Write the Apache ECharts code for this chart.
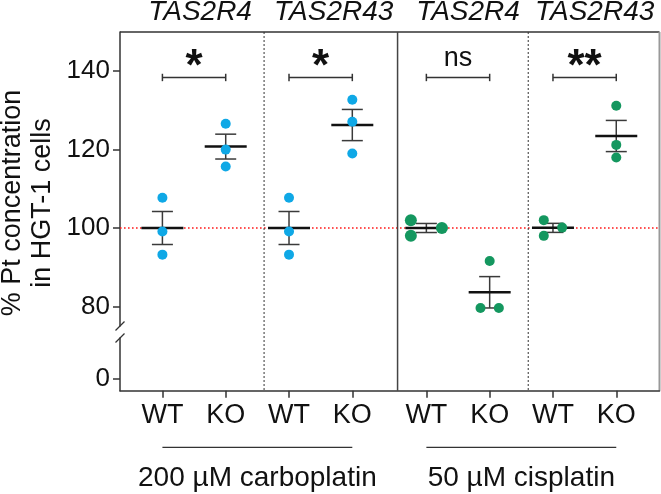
<!DOCTYPE html>
<html>
<head>
<meta charset="utf-8">
<script src="https://cdn.jsdelivr.net/npm/echarts@6/dist/echarts.min.js"></script>
<style>
  html, body { margin: 0; padding: 0; background: #fff; }
  #chart { width: 661px; height: 494px; }
</style>
</head>
<body>
<div id="chart"></div>
<script>
// ---- data ----
var columns = ['WT', 'KO', 'WT', 'KO', 'WT', 'KO', 'WT', 'KO'];
var genes = ['TAS2R4', 'TAS2R43', 'TAS2R4', 'TAS2R43'];
var treatments = ['200 µM carboplatin', '50 µM cisplatin'];
var significance = ['*', '*', 'ns', '**'];
var carboWT4 = [107.7, 99.1, 93.2];
var carboKO4 = [126.6, 120.0, 115.7];
var carboWT43 = [107.7, 99.1, 93.2];
var carboKO43 = [132.7, 127.1, 119.0];
var cisWT4 = [102.0, 100.0, 98.0];
var cisKO4 = [91.6, 79.6, 79.6];
var cisWT43 = [102.0, 100.1, 98.0];
var cisKO43 = [131.2, 121.2, 118.0];
var yTicks = [80, 100, 120, 140];
var yTicksLow = [0];
var baseline = 100;
var bracketAt = 138.4;

// ---- layout ----
var values = [carboWT4, carboKO4, carboWT43, carboKO43, cisWT4, cisKO4, cisWT43, cisKO43];
var xPos = columns.map(function(c, i) { return i + 1 + (i >= 4 ? 0.17 : 0); });
var xMin = 0.33, xMax = 8.853;
var dividers = [2.606, 4.715, 6.779];
var geneShift = [6, 13, 10, 10];
var dotSize = [10, 10, 10, 10, 12, 10, 10, 10];
var colStep = [0.29, 0.29, 0.29, 0.29, 0.49, 0.29, 0.29, 0.29];
var blue = '#0fa8e6';
var green = '#14975f';
var font = 'Liberation Sans, Arial, sans-serif';

function mean(a) { return a.reduce(function(s, v) { return s + v; }, 0) / a.length; }
function sem(a) {
  var m = mean(a);
  var ss = a.reduce(function(s, v) { return s + (v - m) * (v - m); }, 0);
  return Math.sqrt(ss / (a.length - 1)) / Math.sqrt(a.length);
}

// spread overlapping points side by side, like a column scatter
function swarm(vals, gap) {
  var idx = vals.map(function(v, i) { return i; }).sort(function(a, b) { return vals[b] - vals[a]; });
  var offs = vals.map(function() { return 0; });
  var cluster = [];
  function flush() {
    var cols = [], assign = [];
    cluster.forEach(function(i) {
      var k = 0;
      while (cols[k] !== undefined && cols[k] - vals[i] < gap) k++;
      cols[k] = vals[i];
      assign.push([i, k]);
    });
    assign.forEach(function(a) { offs[a[0]] = a[1] - (cols.length - 1) / 2; });
    cluster = [];
  }
  idx.forEach(function(i, n) {
    if (n > 0 && vals[idx[n - 1]] - vals[i] >= gap) flush();
    cluster.push(i);
  });
  flush();
  return offs;
}

var chart = echarts.init(document.getElementById('chart'));

var dotSeries = values.map(function(vals, i) {
  var offs = swarm(vals, 2.8);
  return {
    type: 'scatter',
    xAxisIndex: 0, yAxisIndex: 0,
    symbolSize: dotSize[i],
    itemStyle: { color: i < 4 ? blue : green, opacity: 1 },
    z: 5,
    silent: true,
    data: vals.map(function(v, j) { return [xPos[i] + offs[j] * colStep[i], v]; })
  };
});

var statData = values.map(function(vals, i) { return [xPos[i], mean(vals), sem(vals)]; });

var statSeries = {
  type: 'custom',
  xAxisIndex: 0, yAxisIndex: 0,
  z: 4,
  silent: true,
  data: statData,
  renderItem: function(params, api) {
    var x = api.value(0), m = api.value(1), s = api.value(2);
    var p = api.coord([x, m]);
    var hi = api.coord([x, m + s]);
    var lo = api.coord([x, m - s]);
    var ln = { stroke: '#3a3a3a', lineWidth: 1.5 };
    return {
      type: 'group',
      children: [
        { type: 'line', shape: { x1: p[0], y1: hi[1], x2: p[0], y2: lo[1] }, style: ln },
        { type: 'line', shape: { x1: p[0] - 10.5, y1: hi[1], x2: p[0] + 10.5, y2: hi[1] }, style: ln },
        { type: 'line', shape: { x1: p[0] - 10.5, y1: lo[1], x2: p[0] + 10.5, y2: lo[1] }, style: ln },
        { type: 'line', shape: { x1: p[0] - 21, y1: p[1], x2: p[0] + 21, y2: p[1] }, style: { stroke: '#111', lineWidth: 2.5 } }
      ]
    };
  }
};

var refSeries = {
  type: 'custom',
  xAxisIndex: 0, yAxisIndex: 0,
  z: 1,
  silent: true,
  data: [[xMin, baseline]],
  renderItem: function(params, api) {
    var cs = params.coordSys;
    var y = api.coord([api.value(0), api.value(1)])[1];
    return {
      type: 'line',
      shape: { x1: cs.x, y1: y, x2: cs.x + cs.width, y2: y },
      style: { stroke: '#ff1a1a', lineWidth: 1.6, lineDash: [1.6, 2.4] }
    };
  }
};

var bracketData = genes.map(function(g, k) { return [xPos[2 * k], xPos[2 * k + 1], bracketAt, k]; });

var bracketSeries = {
  type: 'custom',
  xAxisIndex: 0, yAxisIndex: 0,
  z: 3,
  silent: true,
  data: bracketData,
  renderItem: function(params, api) {
    var a = api.coord([api.value(0), api.value(2)]);
    var b = api.coord([api.value(1), api.value(2)]);
    var txt = significance[api.value(3)];
    var star = txt.indexOf('*') >= 0;
    var ln = { stroke: '#333', lineWidth: 1.5 };
    return {
      type: 'group',
      children: [
        { type: 'line', shape: { x1: a[0], y1: a[1], x2: b[0], y2: b[1] }, style: ln },
        { type: 'line', shape: { x1: a[0], y1: a[1] - 3.7, x2: a[0], y2: a[1] + 3.7 }, style: ln },
        { type: 'line', shape: { x1: b[0], y1: b[1] - 3.7, x2: b[0], y2: b[1] + 3.7 }, style: ln },
        {
          type: 'text',
          style: {
            text: txt,
            x: (a[0] + b[0]) / 2,
            y: star ? a[1] + 12 : a[1] - 5.5,
            align: 'center',
            verticalAlign: 'bottom',
            fill: '#111',
            fontFamily: font,
            fontSize: star ? 44 : 27,
            fontWeight: star ? 'bold' : 'normal'
          }
        }
      ]
    };
  }
};

chart.setOption({
  animation: false,
  backgroundColor: '#fff',
  grid: [
    { left: 120, top: 32, width: 539.5, height: 294 },
    { left: 120, top: 338, width: 539.5, height: 52.7 }
  ],
  xAxis: [
    { gridIndex: 0, type: 'value', min: xMin, max: xMax, show: false },
    {
      gridIndex: 1, type: 'value', min: xMin, max: xMax,
      splitLine: { show: false },
      axisLine: { show: true, onZero: false, lineStyle: { color: '#333', width: 1.5 } },
      axisTick: { show: true, customValues: xPos, length: 7, lineStyle: { color: '#333', width: 1.5 } },
      axisLabel: {
        customValues: xPos,
        margin: 11,
        fontSize: 27, color: '#111', fontFamily: font,
        formatter: function(v) {
          for (var i = 0; i < xPos.length; i++) if (Math.abs(xPos[i] - v) < 0.01) return columns[i];
          return '';
        }
      }
    }
  ],
  yAxis: [
    {
      gridIndex: 0, type: 'value', min: 75, max: 150,
      splitLine: { show: false },
      axisLine: { show: true, onZero: false, lineStyle: { color: '#333', width: 1.5 } },
      axisTick: { show: true, customValues: yTicks, length: 7, lineStyle: { color: '#333', width: 1.5 } },
      axisLabel: { customValues: yTicks, margin: 10, fontSize: 26, color: '#111', fontFamily: font }
    },
    {
      gridIndex: 1, type: 'value', min: -3, max: 10.5,
      splitLine: { show: false },
      axisLine: { show: true, onZero: false, lineStyle: { color: '#333', width: 1.5 } },
      axisTick: { show: true, customValues: yTicksLow, length: 7, lineStyle: { color: '#333', width: 1.5 } },
      axisLabel: { customValues: yTicksLow, margin: 10, fontSize: 26, color: '#111', fontFamily: font }
    }
  ],
  series: [refSeries, statSeries, bracketSeries].concat(dotSeries)
});

// frame, section dividers, axis break and group labels
var frameTop = chart.convertToPixel({ yAxisIndex: 0 }, 150);
var frameBottom = chart.convertToPixel({ yAxisIndex: 1 }, -3);
var frameLeft = chart.convertToPixel({ xAxisIndex: 1 }, xMin);
var frameRight = chart.convertToPixel({ xAxisIndex: 1 }, xMax);
var px = function(v) { return chart.convertToPixel({ xAxisIndex: 1 }, v); };
var breakTop = chart.convertToPixel({ yAxisIndex: 0 }, 75);
var breakBottom = chart.convertToPixel({ yAxisIndex: 1 }, 10.5);

var g = [];
g.push({ type: 'line', shape: { x1: frameLeft, y1: frameTop, x2: frameRight, y2: frameTop }, style: { stroke: '#333', lineWidth: 1.5 } });
g.push({ type: 'line', shape: { x1: frameRight, y1: frameTop, x2: frameRight, y2: frameBottom }, style: { stroke: '#999', lineWidth: 2 } });
dividers.forEach(function(d, i) {
  var x = px(d);
  g.push({
    type: 'line', z: 2,
    shape: { x1: x, y1: frameTop, x2: x, y2: frameBottom },
    style: i === 1 ? { stroke: '#444', lineWidth: 1.5 } : { stroke: '#333', lineWidth: 1, lineDash: [2, 2] }
  });
});
[breakTop, breakBottom].forEach(function(y) {
  g.push({ type: 'line', shape: { x1: frameLeft - 4.5, y1: y + 4.5, x2: frameLeft + 4.5, y2: y - 4.5 }, style: { stroke: '#333', lineWidth: 1.3 } });
});
genes.forEach(function(name, k) {
  g.push({
    type: 'text',
    style: {
      text: name, x: (px(xPos[2 * k]) + px(xPos[2 * k + 1])) / 2 + geneShift[k], y: 12,
      align: 'center', verticalAlign: 'middle',
      fontFamily: font, fontSize: 28, fontStyle: 'italic', fill: '#111'
    }
  });
});
treatments.forEach(function(name, k) {
  var x1 = px(xPos[4 * k]), x2 = px(xPos[4 * k + 3]);
  g.push({ type: 'line', shape: { x1: x1, y1: 447.3, x2: x2, y2: 447.3 }, style: { stroke: '#333', lineWidth: 1.2 } });
  g.push({
    type: 'text',
    style: {
      text: name, x: (x1 + x2) / 2, y: 478,
      align: 'center', verticalAlign: 'middle',
      fontFamily: font, fontSize: 28, fill: '#111'
    }
  });
});
g.push({
  type: 'text',
  rotation: Math.PI / 2,
  x: 28, y: 203,
  style: {
    text: '% Pt concentration\nin HGT-1 cells',
    align: 'center', verticalAlign: 'middle',
    fontFamily: font, fontSize: 27, lineHeight: 30, fill: '#111'
  }
});

chart.setOption({ graphic: { elements: g } });
</script>
</body>
</html>
